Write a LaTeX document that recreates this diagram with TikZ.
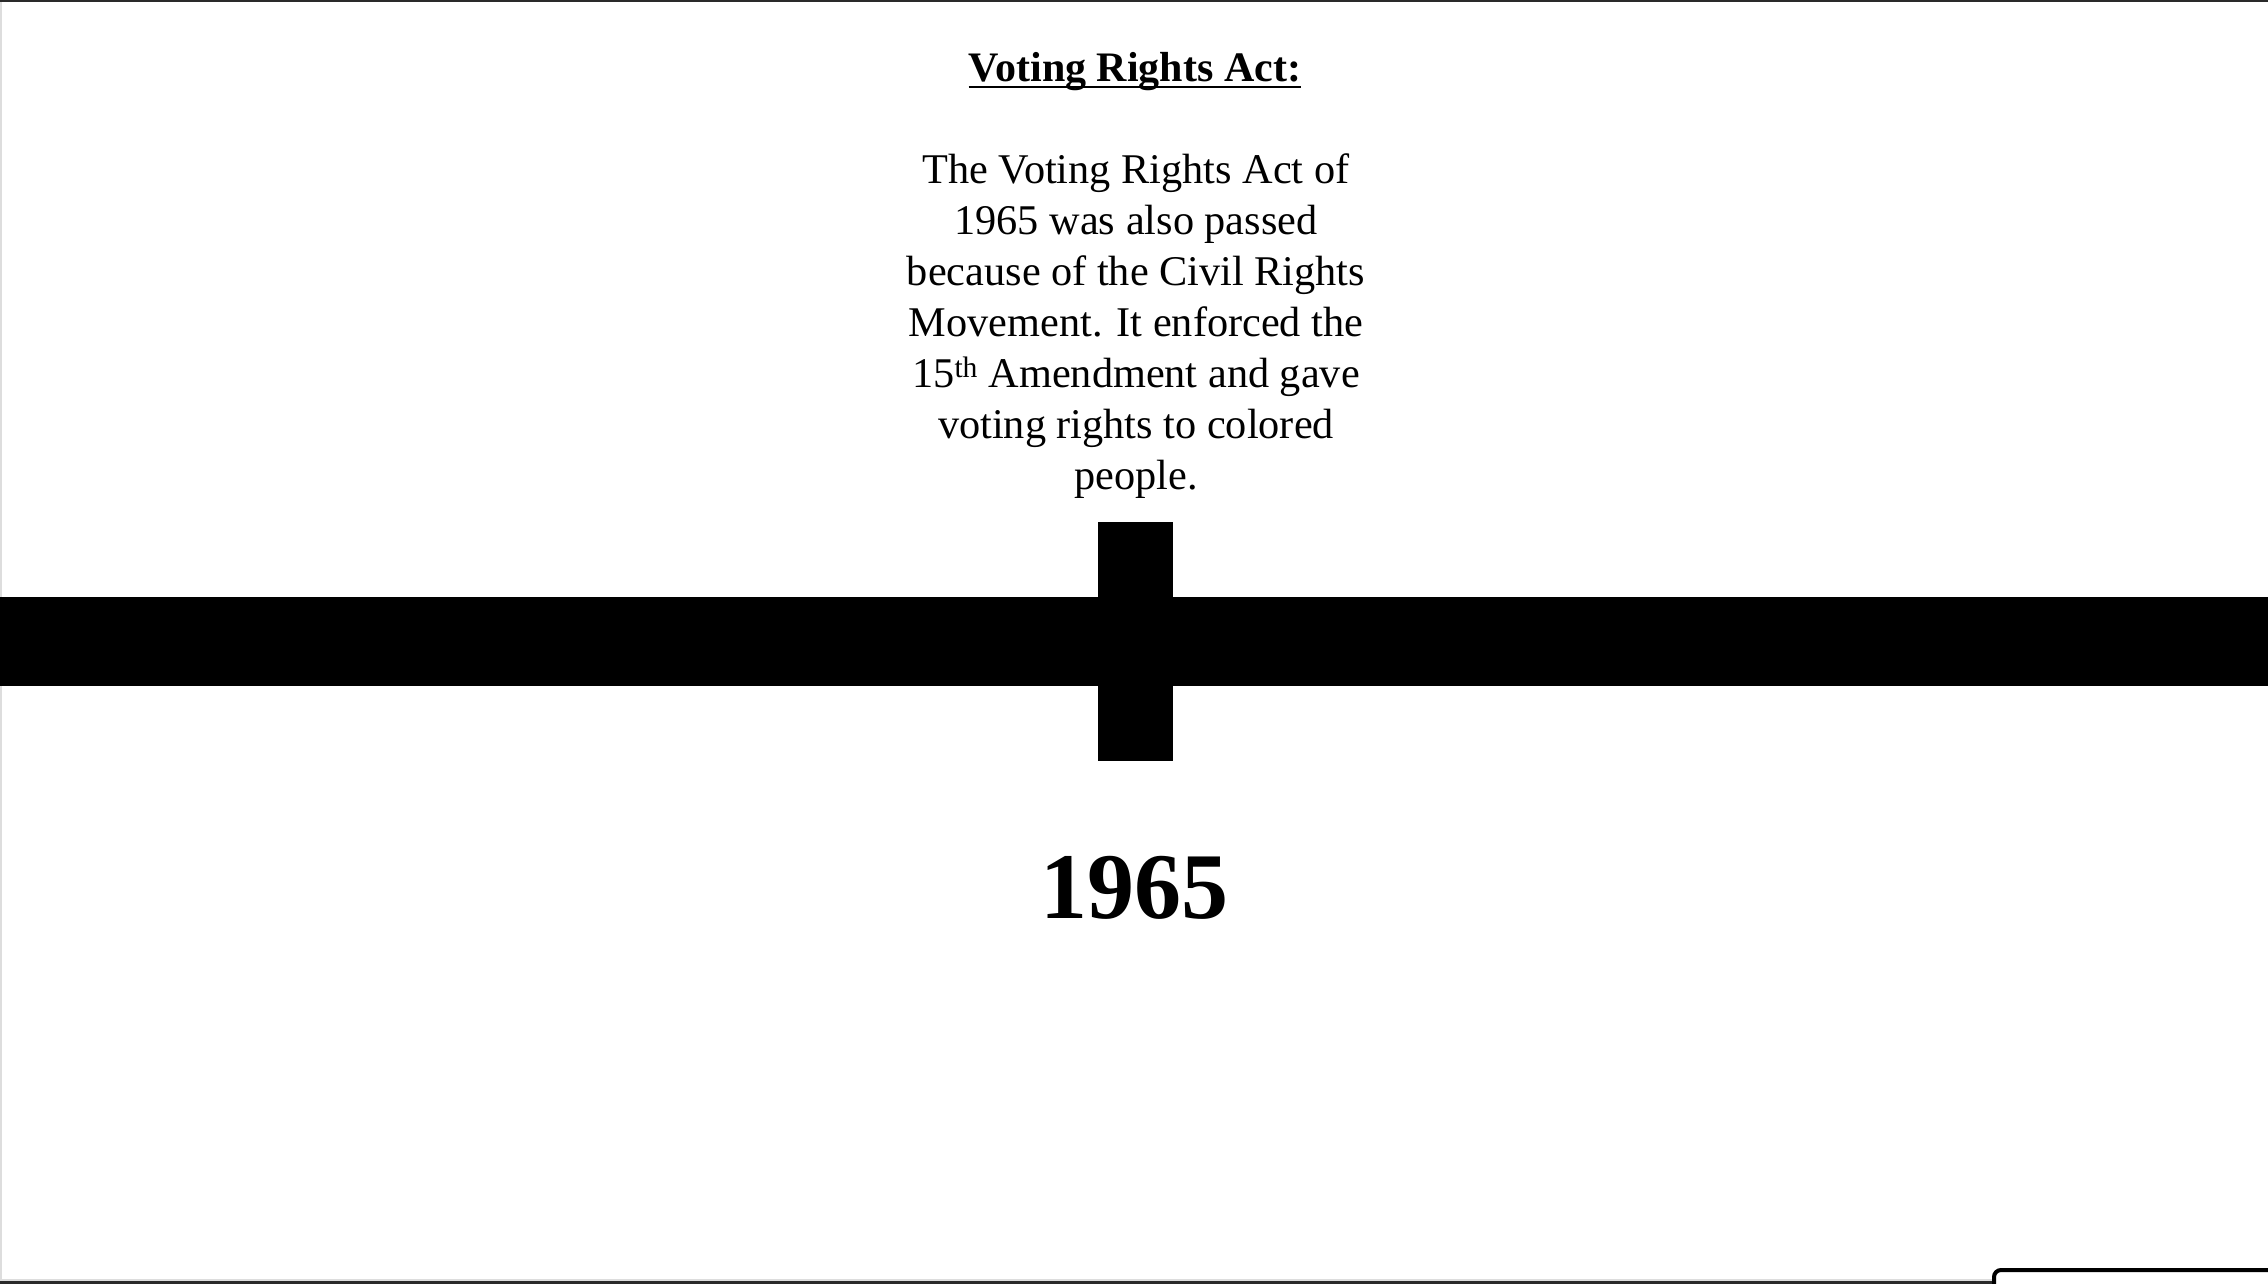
\documentclass[tikz,border=0pt]{standalone}
\usepackage{fontspec}
\setmainfont{Liberation Serif}
\definecolor{framedark}{HTML}{2A2A2A}
\definecolor{framelight}{HTML}{DDDDDD}
\tikzset{
  bodytext/.style={inner sep=0pt, align=center, font=\fontsize{42.3}{51}\selectfont},
  titletext/.style={inner sep=0pt, font=\fontsize{42}{48}\selectfont\bfseries},
  yeartext/.style={inner sep=0pt, font=\fontsize{94}{110}\selectfont\bfseries},
}
\begin{document}
\begin{tikzpicture}[x=1pt, y=-1pt]
	\useasboundingbox (0,0) rectangle (2268,1284);
	% 1. 屏幕边框
	\fill[white] (0,0) rectangle (2268,1284);
	\fill[framelight] (0,0) rectangle (2,1284);
	\fill[framedark] (0,0) rectangle (2268,2);
	\fill[framelight] (0,1279) rectangle (1992,1281);
	\fill[framedark] (0,1281) rectangle (1992,1284);
	\draw[line width=4, rounded corners=7, fill=white] (1994,1290) -- (1994,1270) -- (2275,1270);
	
	% 2. 时间轴与刻度
	\fill[black] (0,597) rectangle (2268,686);
	\fill[black] (1098,522) rectangle (1173,761);
	
	% 3. 标题与说明文字 (base = 最后一行基线)
	\node[titletext, anchor=base] (title) at (1135,82) {Voting Rights Act:};
	\draw[line width=2.5] ([yshift=-5pt]title.base west) -- ([yshift=-5pt]title.base east);
	\node[bodytext, anchor=base] (body) at (1136,489) {The Voting Rights Act of\\
		1965 was also passed\\
		because of the Civil Rights\\
		Movement. It enforced the\\
		15\textsuperscript{th} Amendment and gave\\
		voting rights to colored\\
		people.};
	
	% 4. 年份
	\node[yeartext, anchor=base] (year) at (1134,918) {1965};
\end{tikzpicture}
\end{document}
